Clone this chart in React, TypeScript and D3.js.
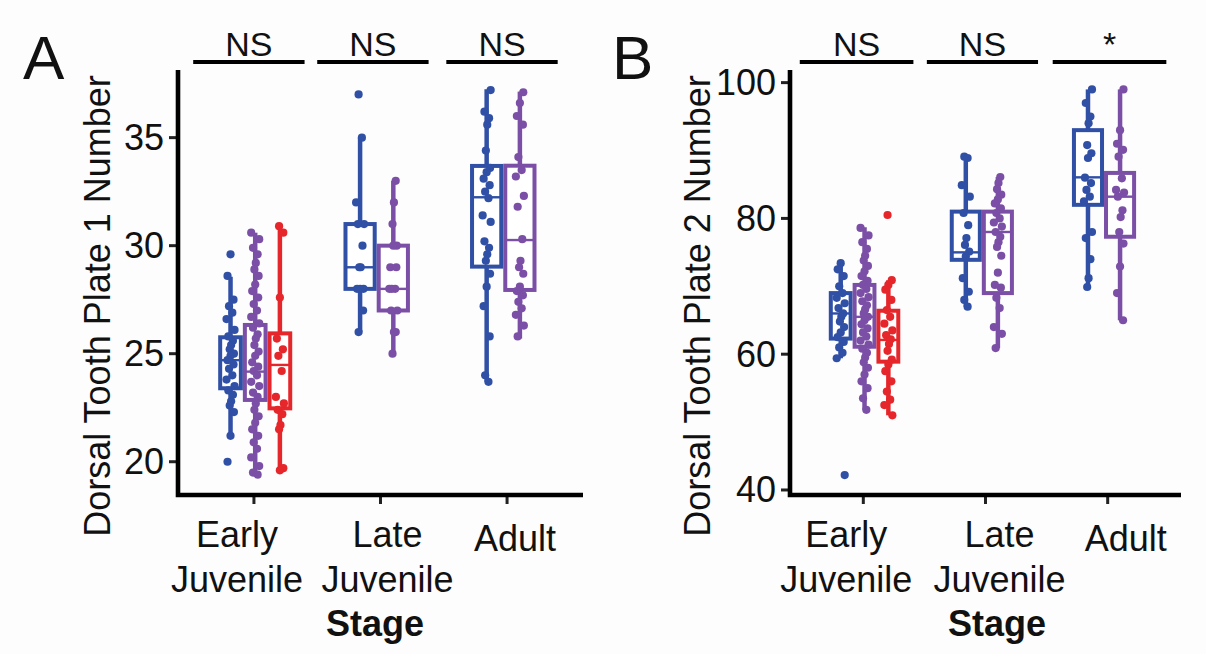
import React from 'react';
import * as d3 from 'd3';

// ---------- DATA ----------
const stages = ['Early Juvenile', 'Late Juvenile', 'Adult'];
const stageLabelLines = [['Early', 'Juvenile'], ['Late', 'Juvenile'], ['Adult']];
const groupColors = ['#3050a6', '#7b4fa6', '#e5262b'];

// Panel A: Dorsal Tooth Plate 1 Number
// box stats: [lower whisker, q1, median, q3, upper whisker]
const plate1EarlyBlueBox = [21.2, 23.4, 24.7, 25.76, 28.56];
const plate1EarlyPurpleBox = [19.4, 22.86, 24.17, 26.33, 30.6];
const plate1EarlyRedBox = [19.65, 22.47, 24.48, 25.94, 30.9];
const plate1LateBlueBox = [26, 28, 29, 31, 35];
const plate1LatePurpleBox = [25, 27, 28, 30, 33];
const plate1AdultBlueBox = [23.7, 29.03, 32.24, 33.69, 37.24];
const plate1AdultPurpleBox = [25.7, 27.95, 30.26, 33.7, 37.13];

const plate1EarlyBluePts = [29.6, 28.6, 27.5, 27.2, 26.9, 26.6, 26.1, 25.8, 25.6, 25.4, 25.2, 25.0, 24.9, 24.7, 24.5, 24.3, 24.0, 23.8, 23.5, 23.3, 23.1, 22.8, 22.6, 22.3, 21.2, 20.0];
const plate1EarlyPurplePts = [30.6, 30.3, 29.9, 29.6, 29.2, 28.9, 28.6, 28.2, 27.9, 27.6, 27.3, 27.0, 26.7, 26.4, 26.2, 25.9, 25.7, 25.4, 25.1, 24.9, 24.6, 24.4, 24.2, 24.0, 23.7, 23.5, 23.2, 23.0, 22.7, 22.4, 22.1, 21.8, 21.5, 21.2, 20.9, 20.6, 20.2, 19.8, 19.5, 19.4];
const plate1EarlyRedPts = [30.9, 30.6, 27.6, 25.7, 25.2, 24.9, 24.2, 23.0, 22.7, 22.4, 22.2, 21.7, 21.5, 19.7, 19.6];
const plate1LateBluePts = [37, 35, 32, 31, 31, 30, 29, 29, 28, 28, 28, 27, 26];
const plate1LatePurplePts = [33, 32, 31, 30, 30, 29, 29, 28, 28, 28, 27, 27, 26, 26, 25];
const plate1AdultBluePts = [37.2, 36.2, 35.9, 35.6, 34.4, 33.6, 33.4, 33.1, 32.8, 32.5, 32.2, 31.4, 31.1, 30.2, 29.9, 29.6, 29.3, 28.7, 28.1, 27.2, 25.8, 24.0, 23.7];
const plate1AdultPurplePts = [37.1, 36.6, 36.0, 35.6, 34.1, 33.5, 33.2, 32.3, 31.8, 30.3, 29.3, 29.0, 28.7, 28.1, 27.9, 27.7, 27.4, 27.1, 26.8, 26.3, 25.8];

const plate1Ticks = [20, 25, 30, 35];
const plate1Signif = ['NS', 'NS', 'NS'];

// Panel B: Dorsal Tooth Plate 2 Number
const plate2EarlyBlueBox = [59.4, 62.3, 66.0, 69.0, 73.4];
const plate2EarlyPurpleBox = [51.8, 61.1, 65.5, 70.2, 78.7];
const plate2EarlyRedBox = [51.0, 58.9, 62.1, 66.4, 70.9];
const plate2LateBlueBox = [67.0, 73.9, 75.0, 81.0, 89.1];
const plate2LatePurpleBox = [60.9, 69.0, 78.0, 81.0, 86.1];
const plate2AdultBlueBox = [69.9, 82.0, 86.05, 93.0, 99.0];
const plate2AdultPurpleBox = [65.0, 77.3, 83.2, 86.7, 99.0];

const plate2EarlyBluePts = [73.4, 72.5, 71.5, 70.0, 69.0, 68.3, 67.5, 66.8, 66.0, 65.5, 64.8, 64.0, 63.2, 62.5, 61.8, 61.0, 60.2, 59.4, 42.2];
const plate2EarlyPurplePts = [78.6, 77.5, 76.5, 75.5, 74.5, 73.8, 73.0, 72.2, 71.5, 70.8, 70.2, 69.6, 69.0, 68.4, 67.8, 67.2, 66.6, 66.0, 65.5, 65.0, 64.4, 63.8, 63.2, 62.6, 62.0, 61.4, 60.8, 60.2, 59.5, 58.8, 58.0, 57.0, 56.0, 55.0, 53.5, 51.8];
const plate2EarlyRedPts = [80.5, 70.9, 70.2, 69.5, 68.0, 66.5, 65.5, 64.5, 63.5, 62.8, 62.2, 61.5, 60.5, 59.2, 58.5, 57.5, 56.0, 54.5, 53.3, 52.5, 51.0];
const plate2LateBluePts = [89.1, 88.9, 84.9, 83.2, 80.8, 79.0, 77.1, 76.1, 75.1, 74.4, 71.2, 69.2, 68.0, 67.0];
const plate2LatePurplePts = [86.1, 85.2, 84.3, 83.5, 82.8, 82.2, 81.5, 80.8, 80.0, 79.4, 78.8, 78.0, 77.3, 76.5, 75.8, 74.5, 72.0, 70.2, 69.8, 68.3, 66.8, 64.0, 63.0, 60.9];
const plate2AdultBluePts = [99.0, 97.0, 95.0, 94.0, 90.8, 89.6, 88.9, 86.0, 85.2, 84.2, 83.2, 82.5, 78.0, 77.1, 74.0, 71.2, 69.9];
const plate2AdultPurplePts = [99.0, 93.0, 91.0, 90.1, 89.1, 85.9, 84.2, 83.8, 83.2, 81.2, 80.2, 78.0, 76.3, 72.9, 69.0, 65.0];

const plate2Ticks = [40, 60, 80, 100];
const plate2Signif = ['NS', 'NS', '*'];

// ---------- LAYOUT ----------
type Group = { color: number; box: number[]; pts: number[] };
type PanelCfg = {
  letter: string;
  letterX: number;
  title: string;
  titleX: number;
  titleY: number;
  axisX0: number;
  axisX1: number;
  domain: [number, number];
  ticks: number[];
  signif: string[];
  bracket: [number, number][]; // in category-step units relative to category center
  labelShift: number[];
  stageX: number;
  groups: Group[][];
};

const FONT = '"Liberation Sans", Arial, Helvetica, sans-serif';
const Y_TOP = 70;
const Y_BOT = 495;
const JIT = [0, -3, 3, -1.5, 1.8, -4, 4, -2.2, 2.4, 0.6, -0.8, 3.4];

const panels: PanelCfg[] = [
  {
    letter: 'A',
    letterX: 23,
    title: 'Dorsal Tooth Plate 1 Number',
    titleX: 110,
    titleY: 306,
    axisX0: 178,
    axisX1: 583,
    domain: [18.46, 38.13],
    ticks: plate1Ticks,
    signif: plate1Signif,
    bracket: [[-0.48, 0.4], [-0.5, 0.38], [-0.48, 0.4]],
    labelShift: [-17, 7, 8],
    stageX: 375,
    groups: [
      [
        { color: 0, box: plate1EarlyBlueBox, pts: plate1EarlyBluePts },
        { color: 1, box: plate1EarlyPurpleBox, pts: plate1EarlyPurplePts },
        { color: 2, box: plate1EarlyRedBox, pts: plate1EarlyRedPts },
      ],
      [
        { color: 0, box: plate1LateBlueBox, pts: plate1LateBluePts },
        { color: 1, box: plate1LatePurpleBox, pts: plate1LatePurplePts },
      ],
      [
        { color: 0, box: plate1AdultBlueBox, pts: plate1AdultBluePts },
        { color: 1, box: plate1AdultPurpleBox, pts: plate1AdultPurplePts },
      ],
    ],
  },
  {
    letter: 'B',
    letterX: 612,
    title: 'Dorsal Tooth Plate 2 Number',
    titleX: 710,
    titleY: 306,
    axisX0: 790,
    axisX1: 1181,
    domain: [39.26, 101.86],
    ticks: plate2Ticks,
    signif: plate2Signif,
    bracket: [[-0.52, 0.41], [-0.48, 0.43], [-0.45, 0.48]],
    labelShift: [-17, 14, 18],
    stageX: 997,
    groups: [
      [
        { color: 0, box: plate2EarlyBlueBox, pts: plate2EarlyBluePts },
        { color: 1, box: plate2EarlyPurpleBox, pts: plate2EarlyPurplePts },
        { color: 2, box: plate2EarlyRedBox, pts: plate2EarlyRedPts },
      ],
      [
        { color: 0, box: plate2LateBlueBox, pts: plate2LateBluePts },
        { color: 1, box: plate2LatePurpleBox, pts: plate2LatePurplePts },
      ],
      [
        { color: 0, box: plate2AdultBlueBox, pts: plate2AdultBluePts },
        { color: 1, box: plate2AdultPurpleBox, pts: plate2AdultPurplePts },
      ],
    ],
  },
];

function Panel({ cfg }: { cfg: PanelCfg }) {
  const x = d3.scalePoint<string>().domain(stages).range([cfg.axisX0, cfg.axisX1]).padding(0.6);
  const step = x.step();
  const y = d3.scaleLinear().domain(cfg.domain).range([Y_BOT, Y_TOP]);

  const boxes: React.ReactNode[] = [];
  const points: React.ReactNode[] = [];

  stages.forEach((s, si) => {
    const gs = cfg.groups[si];
    const n = gs.length;
    const total = n === 3 ? 0.585 * step : 0.525 * step;
    const shift = n === 3 ? 0.01 * step : -0.03 * step;
    const bw = total / n;
    const left = (x(s) as number) + shift - total / 2;
    gs.forEach((g, gi) => {
      const cx = left + (gi + 0.5) * bw;
      const col = groupColors[g.color];
      const [lo, q1, med, q3, hi] = g.box;
      boxes.push(
        <g key={`b-${si}-${gi}`}>
          <line x1={cx} x2={cx} y1={y(hi)} y2={y(q3)} stroke={col} strokeWidth={4.5} />
          <line x1={cx} x2={cx} y1={y(q1)} y2={y(lo)} stroke={col} strokeWidth={4.5} />
          <rect x={cx - bw / 2 + 2} y={y(q3)} width={bw - 4} height={y(q1) - y(q3)} fill="white" stroke={col} strokeWidth={4} />
          <line x1={cx - bw / 2 + 2} x2={cx + bw / 2 - 2} y1={y(med)} y2={y(med)} stroke={col} strokeWidth={2.4} />
        </g>
      );
      g.pts.forEach((v, pi) => {
        points.push(
          <circle key={`p-${si}-${gi}-${pi}`} cx={cx + JIT[(pi + gi * 5 + si * 3) % JIT.length]} cy={y(v)} r={4.1} fill={col} />
        );
      });
    });
  });

  return (
    <g fontFamily={FONT}>
      <text x={cfg.letterX} y={79} fontSize={62} fill="#111">{cfg.letter}</text>
      <text
        transform={`translate(${cfg.titleX},${cfg.titleY}) rotate(-90)`}
        textAnchor="middle"
        fontSize={36}
        fill="#111"
      >
        {cfg.title}
      </text>
      {/* significance brackets */}
      {stages.map((s, i) => {
        const c = x(s) as number;
        const [a, b] = cfg.bracket[i];
        const x1 = c + a * step;
        const x2 = c + b * step;
        return (
          <g key={`br-${i}`}>
            <line x1={x1} x2={x2} y1={62} y2={62} stroke="#000" strokeWidth={4} />
            <text x={(x1 + x2) / 2} y={56} textAnchor="middle" fontSize={34} fill="#111">
              {cfg.signif[i]}
            </text>
          </g>
        );
      })}
      {/* y ticks */}
      {cfg.ticks.map((t) => (
        <g key={`yt-${t}`}>
          <line x1={cfg.axisX0 - 9} x2={cfg.axisX0} y1={y(t)} y2={y(t)} stroke="#222" strokeWidth={3} />
          <text x={cfg.axisX0 - 14} y={y(t) + 12.5} textAnchor="end" fontSize={36} fill="#111">
            {t}
          </text>
        </g>
      ))}
      {/* x ticks and labels */}
      {stages.map((s, i) => {
        const c = x(s) as number;
        const lines = stageLabelLines[i];
        return (
          <g key={`xt-${i}`}>
            <line x1={c} x2={c} y1={Y_BOT} y2={Y_BOT + 9} stroke="#222" strokeWidth={3} />
            {lines.map((ln, li) => (
              <text
                key={li}
                x={c + cfg.labelShift[i]}
                y={(lines.length === 1 ? 551 : 547) + li * 45}
                textAnchor="middle"
                fontSize={36}
                fill="#111"
              >
                {ln}
              </text>
            ))}
          </g>
        );
      })}
      <text x={cfg.stageX} y={636} textAnchor="middle" fontSize={36} fontWeight="bold" fill="#111">
        Stage
      </text>
      {boxes}
      {points}
      {/* axis lines */}
      <path
        d={`M${cfg.axisX0},${Y_TOP} L${cfg.axisX0},${Y_BOT} L${cfg.axisX1},${Y_BOT}`}
        fill="none"
        stroke="#000"
        strokeWidth={4.6}
        strokeLinejoin="miter"
        strokeLinecap="butt"
      />
    </g>
  );
}

export default function App() {
  return (
    <svg
      width={1206}
      height={654}
      viewBox="0 0 1206 654"
      style={{ position: 'absolute', left: 0, top: 0, background: '#fdfdfd' }}
    >
      <rect x={0} y={0} width={1206} height={654} fill="#fdfdfd" />
      {panels.map((p, i) => (
        <Panel key={i} cfg={p} />
      ))}
    </svg>
  );
}
